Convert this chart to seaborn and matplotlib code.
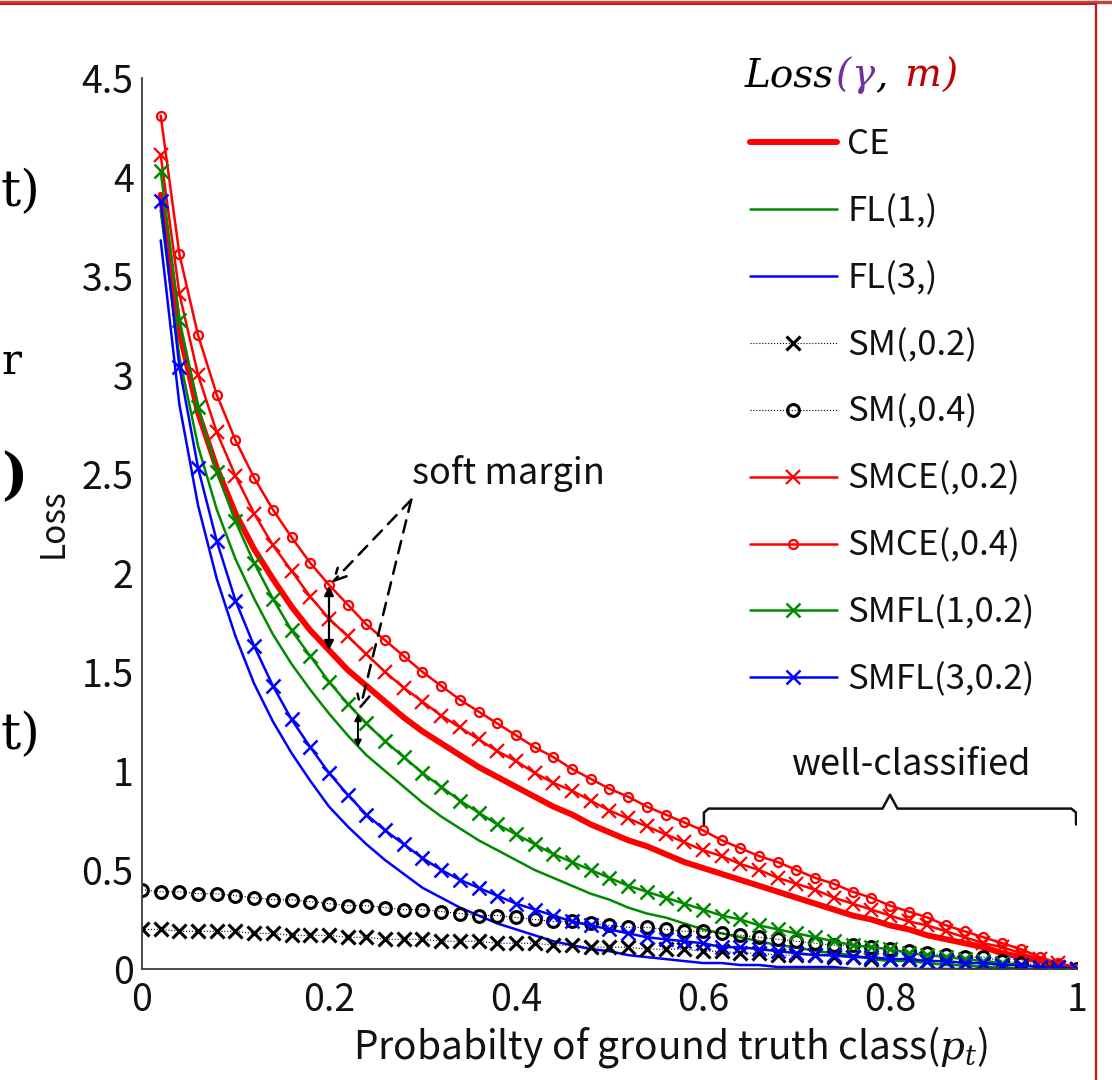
import numpy as np
import matplotlib
matplotlib.use("Agg")
import matplotlib.pyplot as plt
import seaborn as sns
from matplotlib.transforms import IdentityTransform
from matplotlib.lines import Line2D

# ---------------- data ----------------
p = np.linspace(0.02, 1.0, 50)      # probability of ground-truth class (curves with log term)
p_sm = np.linspace(0.0, 1.0, 51)    # soft-margin-only curves start at 0

ce = [3.91, 3.22, 2.81, 2.53, 2.30, 2.12, 1.97, 1.83, 1.71, 1.61,
      1.51, 1.43, 1.35, 1.27, 1.20, 1.14, 1.08, 1.02, 0.97, 0.92,
      0.87, 0.82, 0.78, 0.73, 0.69, 0.65, 0.62, 0.58, 0.54, 0.51,
      0.48, 0.45, 0.42, 0.39, 0.36, 0.33, 0.30, 0.27, 0.25, 0.22,
      0.20, 0.17, 0.15, 0.13, 0.11, 0.08, 0.06, 0.04, 0.02, 0.00]
fl1 = [3.83, 3.09, 2.64, 2.32, 2.07, 1.87, 1.69, 1.54, 1.41, 1.29,
       1.18, 1.08, 1.00, 0.92, 0.84, 0.77, 0.71, 0.65, 0.60, 0.55,
       0.50, 0.46, 0.42, 0.38, 0.35, 0.31, 0.28, 0.26, 0.23, 0.20,
       0.18, 0.16, 0.14, 0.12, 0.11, 0.09, 0.08, 0.07, 0.05, 0.04,
       0.04, 0.03, 0.02, 0.02, 0.01, 0.01, 0.00, 0.00, 0.00, 0.00]
fl3 = [3.68, 2.85, 2.34, 1.97, 1.68, 1.44, 1.25, 1.09, 0.95, 0.82,
       0.72, 0.63, 0.55, 0.48, 0.41, 0.36, 0.31, 0.27, 0.23, 0.20,
       0.17, 0.14, 0.12, 0.10, 0.09, 0.07, 0.06, 0.05, 0.04, 0.03,
       0.03, 0.02, 0.02, 0.01, 0.01, 0.01, 0.01, 0.00, 0.00, 0.00,
       0.00, 0.00, 0.00, 0.00, 0.00, 0.00, 0.00, 0.00, 0.00, 0.00]
sm02 = [0.20, 0.20, 0.19, 0.19, 0.19, 0.19, 0.18, 0.18, 0.17, 0.17,
        0.17, 0.16, 0.16, 0.15, 0.15, 0.15, 0.14, 0.14, 0.14, 0.13,
        0.13, 0.13, 0.12, 0.12, 0.11, 0.11, 0.11, 0.10, 0.10, 0.10,
        0.09, 0.09, 0.08, 0.08, 0.07, 0.07, 0.07, 0.06, 0.06, 0.05,
        0.05, 0.05, 0.04, 0.04, 0.03, 0.03, 0.02, 0.02, 0.01, 0.01, 0.00]
sm04 = [0.40, 0.39, 0.39, 0.38, 0.38, 0.37, 0.36, 0.35, 0.35, 0.34,
        0.33, 0.32, 0.32, 0.31, 0.30, 0.30, 0.29, 0.28, 0.27, 0.27,
        0.26, 0.25, 0.24, 0.24, 0.23, 0.22, 0.21, 0.21, 0.20, 0.19,
        0.19, 0.18, 0.17, 0.16, 0.15, 0.14, 0.13, 0.12, 0.12, 0.11,
        0.10, 0.09, 0.08, 0.07, 0.06, 0.06, 0.04, 0.03, 0.02, 0.01, 0.00]
smce02 = [4.11, 3.41, 3.00, 2.71, 2.49, 2.30, 2.14, 2.01, 1.88, 1.77,
          1.68, 1.59, 1.50, 1.42, 1.35, 1.28, 1.22, 1.16, 1.10, 1.05,
          0.99, 0.94, 0.90, 0.85, 0.80, 0.76, 0.72, 0.68, 0.64, 0.60,
          0.57, 0.53, 0.50, 0.46, 0.43, 0.40, 0.36, 0.33, 0.30, 0.27,
          0.24, 0.22, 0.19, 0.16, 0.13, 0.11, 0.08, 0.05, 0.03, 0.00]
smce04 = [4.31, 3.61, 3.20, 2.90, 2.67, 2.48, 2.32, 2.18, 2.05, 1.94,
          1.84, 1.74, 1.66, 1.58, 1.50, 1.43, 1.36, 1.30, 1.24, 1.18,
          1.12, 1.07, 1.01, 0.96, 0.91, 0.87, 0.82, 0.78, 0.74, 0.70,
          0.65, 0.61, 0.57, 0.54, 0.50, 0.46, 0.43, 0.39, 0.36, 0.32,
          0.29, 0.26, 0.22, 0.19, 0.16, 0.13, 0.10, 0.06, 0.03, 0.00]
smfl1 = [4.03, 3.28, 2.84, 2.51, 2.26, 2.05, 1.87, 1.71, 1.58, 1.45,
         1.34, 1.24, 1.15, 1.07, 0.99, 0.92, 0.85, 0.79, 0.73, 0.68,
         0.63, 0.58, 0.54, 0.50, 0.46, 0.42, 0.39, 0.36, 0.33, 0.30,
         0.27, 0.25, 0.22, 0.20, 0.18, 0.16, 0.14, 0.12, 0.11, 0.10,
         0.08, 0.07, 0.06, 0.05, 0.04, 0.03, 0.02, 0.01, 0.01, 0.00]
smfl3 = [3.88, 3.04, 2.53, 2.16, 1.86, 1.63, 1.43, 1.26, 1.12, 0.99,
         0.88, 0.78, 0.70, 0.63, 0.56, 0.50, 0.45, 0.41, 0.37, 0.33,
         0.30, 0.27, 0.24, 0.22, 0.20, 0.18, 0.16, 0.15, 0.14, 0.13,
         0.11, 0.11, 0.10, 0.09, 0.08, 0.07, 0.07, 0.06, 0.06, 0.05,
         0.05, 0.04, 0.04, 0.03, 0.03, 0.02, 0.02, 0.01, 0.01, 0.00]

labels = ["CE", "FL(1,)", "FL(3,)", "SM(,0.2)", "SM(,0.4)",
          "SMCE(,0.2)", "SMCE(,0.4)", "SMFL(1,0.2)", "SMFL(3,0.2)"]
xtick_vals = [0, 0.2, 0.4, 0.6, 0.8, 1.0]
xtick_labels = ["0", "0.2", "0.4", "0.6", "0.8", "1"]
ytick_vals = [0, 0.5, 1, 1.5, 2, 2.5, 3, 3.5, 4, 4.5]
ytick_labels = ["0", "0.5", "1", "1.5", "2", "2.5", "3", "3.5", "4", "4.5"]

# ---------------- style ----------------
sns.set_theme(style="white")
plt.rcParams["font.family"] = ["Noto Sans CJK KR", "DejaVu Sans"]
plt.rcParams["mathtext.fontset"] = "dejavuserif"

RED = "#ff0000"
GREEN = "#008a00"
BLUE = "#0000ff"
BLACK = "#000000"
AXC = "#3a3a3a"
TXT = "#111111"

fig = plt.figure(figsize=(11.12, 10.8), dpi=100)
ax = fig.add_axes([0.1277, 0.1028, 0.8408, 0.825])

series = [
    (p, ce, dict(color=RED, lw=4.3)),
    (p, fl1, dict(color=GREEN, lw=1.8)),
    (p, fl3, dict(color=BLUE, lw=1.8)),
    (p_sm, sm02, dict(color=BLACK, lw=0.8, ls=":", marker="x", markersize=10,
                      markeredgewidth=2.2, markeredgecolor=BLACK)),
    (p_sm, sm04, dict(color=BLACK, lw=0.8, ls=":", marker="o", markersize=8.5,
                      markeredgewidth=2.2, markeredgecolor=BLACK, markerfacecolor="none")),
    (p, smce02, dict(color=RED, lw=1.8, marker="x", markersize=10,
                     markeredgewidth=1.6, markeredgecolor=RED)),
    (p, smce04, dict(color=RED, lw=1.8, marker="o", markersize=6.5,
                     markeredgewidth=1.6, markeredgecolor=RED, markerfacecolor="none")),
    (p, smfl1, dict(color=GREEN, lw=1.8, marker="x", markersize=10,
                    markeredgewidth=1.8, markeredgecolor=GREEN)),
    (p, smfl3, dict(color=BLUE, lw=1.8, marker="x", markersize=10,
                    markeredgewidth=1.8, markeredgecolor=BLUE)),
]

handles = []
for (xv, yv, kw), lab in zip(series, labels):
    n_before = len(ax.lines)
    sns.lineplot(x=xv, y=yv, ax=ax, errorbar=None, sort=False, legend=False, **kw)
    ln = ax.lines[n_before]
    ln.set_label(lab)
    handles.append(ln)

ax.set_xlim(0, 1)
ax.set_ylim(0, 4.5)
ax.set_xticks(xtick_vals)
ax.set_xticklabels(xtick_labels)
ax.set_yticks(ytick_vals)
ax.set_yticklabels(ytick_labels)
for s in ["top", "right"]:
    ax.spines[s].set_visible(False)
for s in ["left", "bottom"]:
    ax.spines[s].set_color(AXC)
    ax.spines[s].set_linewidth(1.3)
ax.tick_params(direction="in", length=7, width=1.2, color=AXC, labelsize=27,
               labelcolor=TXT)
ax.tick_params(axis="x", pad=9)
ax.tick_params(axis="y", pad=6)
ax.set_xlabel(r"Probabilty of ground truth class($p_t$)", fontsize=28, color=TXT)
ax.xaxis.set_label_coords(0.565, -0.062)
ax.set_ylabel("Loss", fontsize=24, labelpad=8, color=TXT)

# legend
leg = ax.legend(handles=handles, loc="upper left",
                bbox_to_anchor=(750 / 1112, 1 - 127 / 1080),
                bbox_transform=fig.transFigure, frameon=False, fontsize=25,
                handlelength=2.5, handletextpad=0.3, labelspacing=0.92,
                borderaxespad=0, borderpad=0, numpoints=1)
for t in leg.get_texts():
    t.set_color(TXT)

# colored legend title  Loss(γ, m)
fig.canvas.draw()
renderer = fig.canvas.get_renderer()
PURPLE = "#7030a0"
DRED = "#c00000"
parts = [("Loss", BLACK), ("(", PURPLE), ("γ", PURPLE), (",", BLACK), (" ", BLACK),
         ("m", DRED), (")", DRED)]
xpix = 745
ypix = 1080 - 76
for s, c in parts:
    t = fig.text(xpix, ypix, s, color=c, fontsize=28, family="DejaVu Serif",
                 style="italic", va="center", ha="left", transform=IdentityTransform())
    bb = t.get_window_extent(renderer=renderer)
    xpix = bb.x1 + (3 if s == " " else 1)

# annotations: soft margin
ax.text(0.392, 2.50, "soft margin", fontsize=26, ha="center", va="center", color=TXT)
dash_kw = dict(arrowstyle="->", color=BLACK, lw=1.8, linestyle=(0, (5, 3.5)),
               mutation_scale=22, shrinkA=0, shrinkB=0)
ax.annotate("", xy=(0.203, 1.95), xytext=(0.288, 2.37), arrowprops=dash_kw)
ax.annotate("", xy=(0.233, 1.31), xytext=(0.288, 2.37), arrowprops=dash_kw)
dbl_kw = dict(arrowstyle="<|-|>", color=BLACK, lw=1.6, mutation_scale=14,
              shrinkA=0, shrinkB=0)
ax.annotate("", xy=(0.2, 1.935), xytext=(0.2, 1.61), arrowprops=dbl_kw)
ax.annotate("", xy=(0.231, 1.29), xytext=(0.231, 1.12),
            arrowprops=dict(arrowstyle="<|-|>", color=BLACK, lw=1.4,
                            mutation_scale=10, shrinkA=0, shrinkB=0))

# well-classified bracket
ax.plot([0.601, 0.601, 0.606, 0.792, 0.8, 0.808, 0.994, 0.999, 0.999],
        [0.73, 0.79, 0.81, 0.81, 0.88, 0.81, 0.81, 0.79, 0.73],
        color=TXT, lw=1.8, solid_joinstyle="round")
ax.text(0.822, 1.03, "well-classified", fontsize=26, ha="center", va="center",
        color=TXT)

# fragments of neighbouring slide text on the left edge (kept inside the canvas)
frag_kw = dict(family="DejaVu Serif", color=BLACK, va="center", ha="left",
               transform=IdentityTransform())
fig.text(1, 1080 - 192, "t)", fontsize=36, **frag_kw)
fig.text(1, 1080 - 362, "r", fontsize=30, **frag_kw)
fig.text(1, 1080 - 478, ")", fontsize=40, fontweight="bold", **frag_kw)
fig.text(1, 1080 - 735, "t)", fontsize=36, **frag_kw)

# red slide frame
fig.add_artist(Line2D([0, 1], [1 - 1.5 / 1080, 1 - 1.5 / 1080], transform=fig.transFigure,
                      color="#b84848", lw=2.5))
fig.add_artist(Line2D([0, 1096 / 1112], [1 - 4 / 1080, 1 - 4 / 1080], transform=fig.transFigure,
                      color="#e01010", lw=1.4))
fig.add_artist(Line2D([1096 / 1112, 1096 / 1112], [0, 1 - 4 / 1080], transform=fig.transFigure,
                      color="#cc1010", lw=1.6))

fig.savefig("out.png", dpi=100)
